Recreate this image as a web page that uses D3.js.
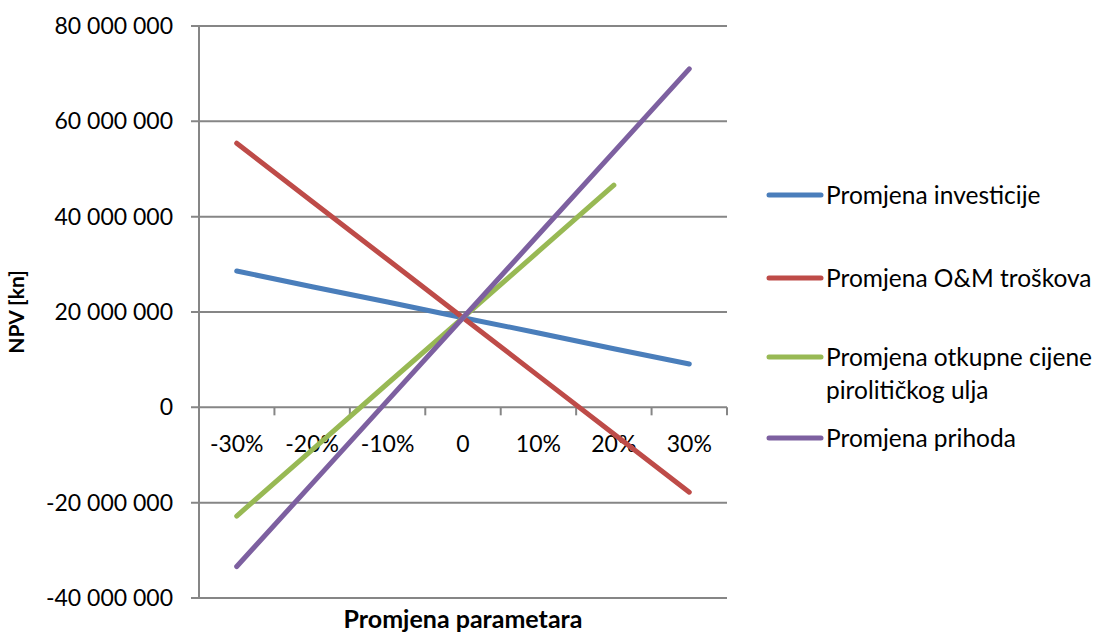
<!DOCTYPE html>
<html>
<head>
<meta charset="utf-8">
<script src="https://cdn.jsdelivr.net/npm/d3@7"></script>
<style>
  body { margin: 0; background: #fff; }
  svg text { font-family: Lato, "Open Sans", sans-serif; fill: #000; }
</style>
</head>
<body>
<svg width="1101" height="632"></svg>
<script>
// data
var categories = ["-30%", "-20%", "-10%", "0", "10%", "20%", "30%"];
var investicije = [28.6e6, 25.3e6, 22.1e6, 18.8e6, 15.6e6, 12.3e6, 9.1e6];
var omTroskovi = [55.4e6, 43.2e6, 31.0e6, 18.8e6, 6.6e6, -5.6e6, -17.8e6];
var otkupnaCijena = [-22.8e6, -8.9e6, 5.0e6, 18.8e6, 32.7e6, 46.6e6, null];
var prihodi = [-33.4e6, -16.0e6, 1.4e6, 18.8e6, 36.2e6, 53.6e6, 71.0e6];
var yTicks = [-40e6, -20e6, 0, 20e6, 40e6, 60e6, 80e6];

var series = [
  { name: ["Promjena investicije"], values: investicije, color: "#4a7ebb" },
  { name: ["Promjena O&M troškova"], values: omTroskovi, color: "#be4b48" },
  { name: ["Promjena otkupne cijene", "pirolitičkog ulja"], values: otkupnaCijena, color: "#98b954" },
  { name: ["Promjena prihoda"], values: prihodi, color: "#7d60a0" }
];

var svg = d3.select("svg");
var plotLeft = 199, plotRight = 727, plotTop = 26, plotBottom = 598;

var xScale = d3.scaleBand().domain(categories).range([plotLeft, plotRight]).padding(0);
var yScale = d3.scaleLinear().domain([-40e6, 80e6]).range([plotBottom, plotTop]);

var loc = d3.formatLocale({ decimal: ",", thousands: " ", grouping: [3], currency: ["", ""], minus: "-" });
var fmt = loc.format(",.0f");

// gridlines
svg.append("g")
  .selectAll("line")
  .data(yTicks)
  .enter()
  .append("line")
  .attr("x1", plotLeft - 8)
  .attr("x2", plotRight)
  .attr("y1", d => yScale(d))
  .attr("y2", d => yScale(d))
  .attr("stroke", "#868686")
  .attr("stroke-width", 2);

// y axis line
svg.append("line")
  .attr("x1", plotLeft).attr("x2", plotLeft)
  .attr("y1", plotTop).attr("y2", plotBottom)
  .attr("stroke", "#868686")
  .attr("stroke-width", 2);

// y tick labels
svg.append("g")
  .selectAll("text")
  .data(yTicks)
  .enter()
  .append("text")
  .attr("x", 173)
  .attr("y", d => yScale(d))
  .attr("dy", "0.35em")
  .attr("text-anchor", "end")
  .attr("font-size", "23px")
  .text(d => fmt(d));

// x axis at zero
var y0 = yScale(0);
var bounds = categories.map(c => xScale(c)).concat([plotRight]);
svg.append("g")
  .selectAll("line")
  .data(bounds)
  .enter()
  .append("line")
  .attr("x1", d => d).attr("x2", d => d)
  .attr("y1", y0).attr("y2", y0 + 8)
  .attr("stroke", "#868686")
  .attr("stroke-width", 2);

svg.append("g")
  .selectAll("text")
  .data(categories)
  .enter()
  .append("text")
  .attr("x", d => xScale(d) + xScale.bandwidth() / 2)
  .attr("y", y0 + 37)
  .attr("dy", "0.35em")
  .attr("text-anchor", "middle")
  .attr("font-size", "23px")
  .text(d => d);

// lines
var line = d3.line()
  .defined(d => d != null)
  .x((d, i) => xScale(categories[i]) + xScale.bandwidth() / 2)
  .y(d => yScale(d));

svg.append("g")
  .selectAll("path")
  .data(series)
  .enter()
  .append("path")
  .attr("d", d => line(d.values))
  .attr("fill", "none")
  .attr("stroke", d => d.color)
  .attr("stroke-width", 5)
  .attr("stroke-linecap", "round")
  .attr("stroke-linejoin", "round");

// axis titles
svg.append("text")
  .attr("transform", "translate(24," + yScale(20e6) + ") rotate(-90)")
  .attr("text-anchor", "middle")
  .attr("font-size", "21px")
  .attr("font-weight", "bold")
  .text("NPV [kn]");

svg.append("text")
  .attr("x", 463)
  .attr("y", 628)
  .attr("text-anchor", "middle")
  .attr("font-size", "25px")
  .attr("font-weight", "bold")
  .text("Promjena parametara");

// legend
var legendY = [195, 278, 357, 438];
var lg = svg.append("g")
  .selectAll("g")
  .data(series)
  .enter()
  .append("g")
  .attr("transform", (d, i) => "translate(767," + legendY[i] + ")");

lg.append("line")
  .attr("x1", 2).attr("x2", 54)
  .attr("stroke", d => d.color)
  .attr("stroke-width", 5)
  .attr("stroke-linecap", "round");

lg.each(function (d) {
  var t = d3.select(this).append("text")
    .attr("x", 59)
    .attr("font-size", "24.5px");
  d.name.forEach(function (s, j) {
    t.append("tspan")
      .attr("x", 59)
      .attr("y", j * 33)
      .attr("dy", "0.35em")
      .text(s);
  });
});
</script>
</body>
</html>
